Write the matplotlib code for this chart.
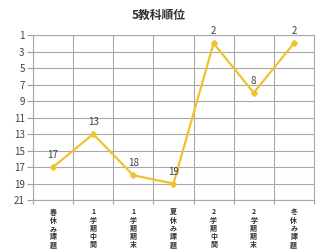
import matplotlib
matplotlib.use("Agg")
import matplotlib.pyplot as plt

plt.rcParams['font.family'] = ['Noto Sans CJK JP', 'DejaVu Sans']

categories = ["春休み課題", "1学期中間", "1学期期末", "夏休み課題", "2学期中間", "2学期期末", "冬休み課題"]
ranks = [17, 13, 18, 19, 2, 8, 2]
yticks = [1, 3, 5, 7, 9, 11, 13, 15, 17, 19, 21]
title = "5教科順位"

fig = plt.figure(figsize=(3.23, 2.52), dpi=100)
ax = fig.add_axes([0.102, 0.206, 0.870, 0.655])

x = list(range(len(categories)))
color = "#F2C12E"
ax.plot(x, ranks, color=color, lw=1.6, marker="D", ms=3, zorder=3)
for xi, v in zip(x, ranks):
    ax.annotate(str(v), (xi, v), xytext=(0, 5), textcoords="offset points",
                ha="center", va="bottom", fontsize=7, color="#404040")

ax.set_xlim(-0.5, len(categories) - 0.5)
ax.set_ylim(21, 1)
ax.set_yticks(yticks)
ax.set_yticklabels([str(t) for t in yticks], fontsize=7, color="#404040")
ax.set_xticks([i + 0.5 for i in range(-1, len(categories))], minor=False)
ax.set_xticklabels([""] * (len(categories) + 1))
ax.set_xticks(x, minor=True)
ax.set_xticklabels(["\n".join(c) for c in categories], minor=True,
                   fontsize=5, fontweight="bold", color="#303030", linespacing=1.2)
ax.tick_params(axis="x", which="minor", length=0, pad=6)
ax.tick_params(axis="x", which="major", length=3, color="#a0a0a0")
ax.tick_params(axis="y", length=4, color="#a0a0a0", pad=2)
ax.grid(True, which="major", color="#a8a8a8", lw=0.8)
ax.set_axisbelow(True)
for s in ax.spines.values():
    s.set_color("#a8a8a8")
    s.set_linewidth(0.8)

fig.text(0.49, 0.94, title, ha="center", va="center", fontsize=8.5, fontweight="bold", color="#303030")

fig.savefig("out.png", dpi=100)
